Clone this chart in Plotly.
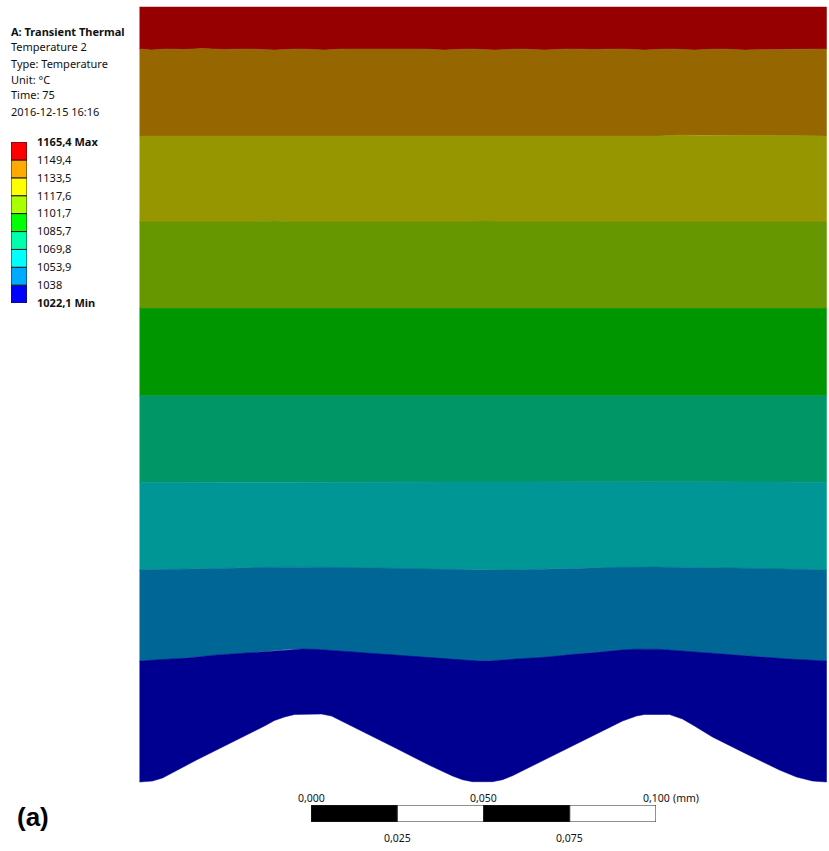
import plotly.graph_objects as go

W, H = 829, 851

# ---- data: model outline and contour lines ----
# horizontal position and height above the trough, in picture units; MM converts to mm
# (scale bar: 0.100 mm = 345 units)
MM = 3450.0
band_colors = ["#960000", "#966600", "#969600", "#669600", "#009600",
               "#009666", "#009696", "#006696", "#000090"]
top_x = [0, 687]
top_y = [775, 775]
c1_x = [0, 12, 28, 45, 62, 85, 110, 135, 160, 185, 205, 230, 255, 280, 305, 330,
        355, 380, 405, 430, 455, 480, 505, 530, 555, 580, 605, 630, 660, 687]
c1_y = [733, 732, 733, 732.5, 733.5, 732.5, 733, 732, 733, 732, 733, 733, 732.5,
        733, 732, 733, 732, 733, 732, 733, 732.5, 733, 732, 733, 732, 733, 732, 732.5, 733, 733]
c2_x = [0, 150, 290, 345, 380, 520, 545, 560, 610, 687]
c2_y = [646, 646, 646, 646.7, 646, 646, 647, 646.5, 646.7, 646]
c3_x = [0, 120, 135, 150, 330, 345, 360, 687]
c3_y = [560, 560, 561, 560, 560, 560.7, 560, 560]
c4_x = [0, 687]
c4_y = [473.7, 473.7]
c5_x = [0, 300, 320, 340, 687]
c5_y = [386.3, 386.3, 385.7, 386.3, 386.3]
c6_x = [0, 120, 160, 340, 510, 687]
c6_y = [299.7, 300, 300.3, 300, 300.3, 299.7]
c7_x = [0, 40, 100, 130, 160, 190, 240, 305, 340, 375, 440, 480, 515, 550, 595, 665, 687]
c7_y = [212, 212.5, 214, 214.8, 215, 214.8, 214, 212.5, 212, 212, 214, 214.8, 215, 214.8, 214, 212.5, 212]
wave_x = [0, 25, 47, 75, 107, 135, 150, 163, 176, 192, 223, 258, 290, 312, 327, 338, 350,
          378, 407, 432, 457, 482, 496, 507, 518, 540, 573, 600, 623, 650, 673, 687]
wave_y = [121, 122.2, 124, 126.8, 129, 131.6, 132.7, 133, 132.7, 131.5, 129, 126.4, 124, 122.2,
          121.2, 121, 121.2, 123, 125, 127.5, 130, 132, 132.8, 133, 132.8, 131.2, 129,
          126.8, 125, 123, 121.4, 121]
base_x = [0, 13, 23, 57, 107, 115, 125, 135, 145, 155, 165, 182, 192, 205, 225, 235,
          257, 290, 303, 313, 323, 333, 353, 363, 373, 387, 400, 430, 457, 473, 483,
          497, 505, 513, 530, 543, 555, 573, 607, 640, 657, 673, 687]
base_y = [0, 1, 4, 22, 47, 51, 56, 61.5, 65, 67.5, 68, 68, 66, 60, 49.8, 44.7,
          33.5, 16.7, 10.5, 6, 2.3, 0.3, 0.3, 2.3, 6.3, 13, 19.7, 34, 48, 56, 61,
          66, 67.5, 68, 67.5, 63, 56, 45, 28, 12, 5, 1, 0]

contours = [(top_x, top_y), (c1_x, c1_y), (c2_x, c2_y), (c3_x, c3_y), (c4_x, c4_y),
            (c5_x, c5_y), (c6_x, c6_y), (c7_x, c7_y), (wave_x, wave_y), (base_x, base_y)]

legend_temps = [1022.1, 1038, 1053.9, 1069.8, 1085.7, 1101.7, 1117.6, 1133.5, 1149.4, 1165.4]
legend_labels = ["<b>1022,1 Min</b>", "1038", "1053,9", "1069,8", "1085,7", "1101,7",
                 "1117,6", "1133,5", "1149,4", "<b>1165,4 Max</b>"]
legend_colors = ["#0000ff", "#00aaff", "#00ffff", "#00ffaa", "#00ff00",
                 "#aaff00", "#ffff00", "#ffaa00", "#ff0000"]

scale_marks = [0, 0.025, 0.05, 0.075, 0.1]
scale_top = ["0,000", "0,050", "0,100"]
scale_top_at = [0, 0.05, 0.1]
scale_bot = ["0,025", "0,075"]
scale_bot_at = [0.025, 0.075]
scale_colors = ["#000000", "#ffffff", "#000000", "#ffffff"]

info_lines = ["<b>A: Transient Thermal</b>", "Temperature 2", "Type: Temperature",
              "Unit: °C", "Time: 75", "2016-12-15 16:16"]
info_y_px = [31, 47, 63, 79, 95, 111]

fig = go.Figure()

for i, col in enumerate(band_colors):
    xt, yt = contours[i]
    xb, yb = contours[i + 1]
    fig.add_trace(go.Scatter(
        x=[v / MM for v in list(xt) + list(xb)[::-1]],
        y=[v / MM for v in list(yt) + list(yb)[::-1]],
        mode="lines", fill="toself", fillcolor=col,
        line=dict(color=col, width=0.5), hoverinfo="skip", showlegend=False))

for i, col in enumerate(legend_colors):
    fig.add_trace(go.Bar(
        x=[0], y=[legend_temps[i + 1] - legend_temps[i]], base=[legend_temps[i]],
        marker=dict(color=col, line=dict(color="#1a1a1a", width=1)), cliponaxis=False,
        width=1, xaxis="x2", yaxis="y2", hoverinfo="skip", showlegend=False))

for i, col in enumerate(scale_colors):
    fig.add_trace(go.Bar(
        y=[0], x=[scale_marks[i + 1] - scale_marks[i]], base=[scale_marks[i]],
        orientation="h", cliponaxis=False,
        marker=dict(color=col, line=dict(color="#222222", width=1)),
        width=1, xaxis="x3", yaxis="y3", hoverinfo="skip", showlegend=False))

font = "Noto Sans"
ink = "#111111"
ann = []
for t, yp in zip(info_lines, info_y_px):
    ann.append(dict(text=t, xref="paper", yref="paper", x=9 / W, y=1 - yp / H,
                    xanchor="left", yanchor="middle", showarrow=False,
                    font=dict(family=font, size=11, color=ink)))
for t, v in zip(scale_top, scale_top_at):
    ann.append(dict(text=t, xref="x3", yref="paper", x=v, y=1 - 798 / H, xanchor="center",
                    yanchor="middle", showarrow=False, font=dict(family=font, size=10.5, color=ink)))
for t, v in zip(scale_bot, scale_bot_at):
    ann.append(dict(text=t, xref="x3", yref="paper", x=v, y=1 - 838 / H, xanchor="center",
                    yanchor="middle", showarrow=False, font=dict(family=font, size=10.5, color=ink)))
ann.append(dict(text="(mm)", xref="paper", yref="paper", x=671 / W, y=1 - 798 / H, xanchor="left",
                yanchor="middle", showarrow=False, font=dict(family=font, size=10.5, color=ink)))
ann.append(dict(text="<b>(a)</b>", xref="paper", yref="paper", x=15 / W, y=1 - 817 / H, xanchor="left",
                yanchor="middle", showarrow=False, font=dict(family="Liberation Sans", size=26, color="#000000")))

fig.update_layout(
    width=W, height=H, margin=dict(l=0, r=0, t=0, b=0),
    paper_bgcolor="white", plot_bgcolor="rgba(0,0,0,0)",
    barmode="overlay", annotations=ann,
    xaxis=dict(domain=[0, 1], range=[-139.5 / MM, 689.5 / MM], visible=False,
               fixedrange=True, automargin=False),
    yaxis=dict(domain=[0, 1], range=[(782 - 851) / MM, 782 / MM], visible=False,
               fixedrange=True, automargin=False),
    xaxis2=dict(domain=[11 / W, 27 / W], range=[-0.5, 0.5], visible=False, anchor="y2",
                fixedrange=True, automargin=False),
    yaxis2=dict(domain=[1 - 303 / H, 1 - 142 / H], range=[1022.1, 1165.4], anchor="x2", side="right",
                tickmode="array", tickvals=legend_temps, ticktext=legend_labels,
                ticks="", showgrid=False, zeroline=False, showline=False, ticklabelstandoff=9,
                tickfont=dict(family=font, size=11, color=ink), fixedrange=True, automargin=False),
    xaxis3=dict(domain=[311 / W, 656 / W], range=[0, 0.1], visible=False, anchor="y3",
                fixedrange=True, automargin=False),
    yaxis3=dict(domain=[1 - 822 / H, 1 - 805 / H], range=[-0.5, 0.5], visible=False, anchor="x3",
                fixedrange=True, automargin=False),
)
fig.write_html("out.html", config={"displayModeBar": False},
               post_script="document.body.style.margin='0';")
